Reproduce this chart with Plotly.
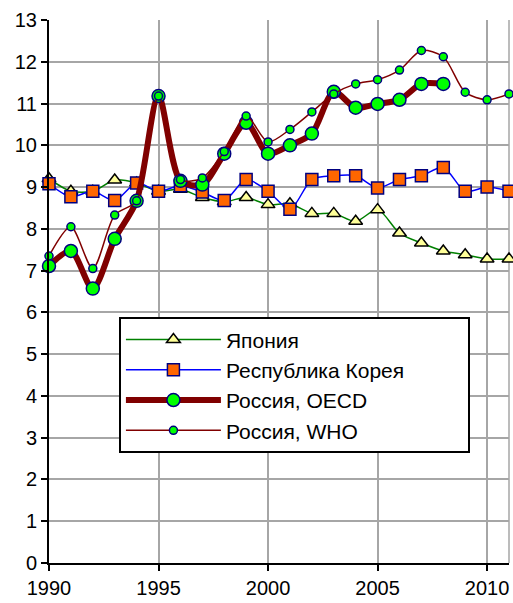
import plotly.graph_objects as go

years = list(range(1990, 2012))

japan = [9.2, 8.9, 8.9, 9.17, 9.1, 8.9, 8.95, 8.75, 8.65, 8.75, 8.58,
         8.6, 8.37, 8.37, 8.18, 8.46, 7.9, 7.66, 7.47, 7.38, 7.28, 7.28]
korea = [9.08, 8.77, 8.9, 8.68, 9.1, 8.9, 9.03, 8.88, 8.68, 9.18, 8.9,
         8.47, 9.18, 9.27, 9.27, 8.98, 9.18, 9.27, 9.47, 8.9, 9.0, 8.9]
russia_oecd = [7.11, 7.47, 6.57, 7.76, 8.67, 11.18, 9.15, 9.06, 9.8, 10.54, 9.8,
               10.0, 10.28, 11.28, 10.9, 10.99, 11.09, 11.47, 11.47]
russia_who = [7.35, 8.05, 7.05, 8.33, 8.67, 11.18, 9.18, 9.22, 9.85, 10.7, 10.08,
              10.38, 10.8, 11.23, 11.47, 11.57, 11.8, 12.27, 12.12, 11.27, 11.09, 11.23]

names = ["Япония", "Республика Корея", "Россия, OECD", "Россия, WHO"]

NAVY = "#000080"
FONT = "Liberation Sans, Arial, sans-serif"
# trailing non-breaking spaces give the legend box its right-hand padding
PAD = "\u00a0" * 10

fig = go.Figure()

fig.add_trace(go.Scatter(
    x=years, y=japan, name=names[0], mode="lines+markers",
    line=dict(color="#008000", width=1.5, shape="spline", smoothing=0.8),
    marker=dict(symbol="triangle-up", size=12, color="#FFFF99",
                line=dict(color="black", width=1.5)),
    cliponaxis=False))

fig.add_trace(go.Scatter(
    x=years, y=korea, name=names[1] + PAD, mode="lines+markers",
    line=dict(color="#0000FF", width=1.5, shape="spline", smoothing=0.8),
    marker=dict(symbol="square", size=12, color="#FF6600",
                line=dict(color=NAVY, width=1.5)),
    cliponaxis=False))

fig.add_trace(go.Scatter(
    x=years[:len(russia_oecd)], y=russia_oecd, name=names[2], mode="lines+markers",
    line=dict(color="#800000", width=6, shape="spline", smoothing=0.8),
    marker=dict(symbol="circle", size=13, color="#00FF00",
                line=dict(color=NAVY, width=1.5)),
    cliponaxis=False))

fig.add_trace(go.Scatter(
    x=years, y=russia_who, name=names[3], mode="lines+markers",
    line=dict(color="#800000", width=1.5, shape="spline", smoothing=0.8),
    marker=dict(symbol="circle", size=8, color="#00FF00",
                line=dict(color=NAVY, width=1.5)),
    cliponaxis=False))

fig.update_layout(
    width=513, height=603,
    margin=dict(l=49, r=4, t=20, b=33),
    paper_bgcolor="white", plot_bgcolor="white",
    font=dict(family=FONT, size=20, color="black"),
    showlegend=True,
    legend=dict(x=0.152, y=0.3273, xanchor="left", yanchor="middle",
                bgcolor="white", bordercolor="black", borderwidth=2,
                font=dict(family=FONT, size=21), itemwidth=95,
                tracegroupgap=0),
    xaxis=dict(range=[1990, 2011], tick0=1990, dtick=5,
               showgrid=True, gridcolor="#A6A6A6", gridwidth=1.5,
               showline=True, linecolor="black", linewidth=2,
               ticks="outside", ticklen=6, tickwidth=1.5, tickcolor="black",
               zeroline=False),
    yaxis=dict(range=[0, 13], dtick=1,
               showgrid=True, gridcolor="#A6A6A6", gridwidth=1.5,
               showline=True, linecolor="black", linewidth=2,
               ticks="outside", ticklen=6, tickwidth=1.5, tickcolor="black",
               zeroline=False),
    shapes=[dict(type="line", xref="paper", yref="paper", x0=1, x1=1, y0=0, y1=1,
                 line=dict(color="#A6A6A6", width=1.5), layer="below")],
)

fig.write_html("out.html")
